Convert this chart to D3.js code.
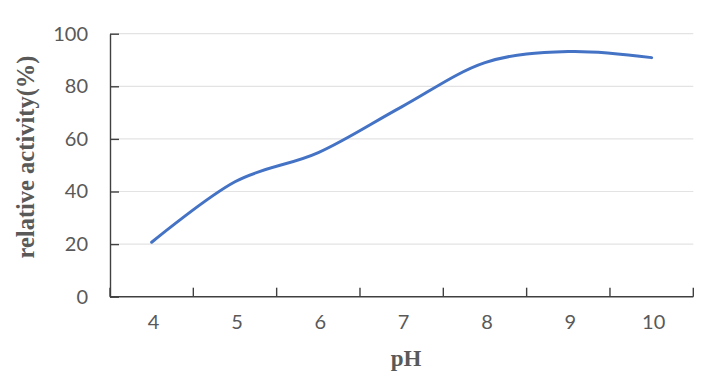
<!DOCTYPE html>
<html>
<head>
<meta charset="utf-8">
<script src="https://cdn.jsdelivr.net/npm/d3@7"></script>
<style>
  body { margin: 0; background: #fff; }
  svg { display: block; }
</style>
</head>
<body>
<script>
// pH values and measured relative activity
const phLevels = ["4", "5", "6", "7", "8", "9", "10"];
const activity = [20.7, 43.7, 54.8, 72.2, 89.0, 93.2, 90.9];
const yTicks = [0, 20, 40, 60, 80, 100];

const width = 716, height = 389;
const plotLeft = 110, plotRight = 693.3, plotTop = 33.7, plotBottom = 296.7;

const svg = d3.select("body").append("svg")
    .attr("width", width)
    .attr("height", height);

const x = d3.scaleBand().domain(phLevels).range([plotLeft, plotRight]).padding(0);
const y = d3.scaleLinear().domain([0, 100]).range([plotBottom, plotTop]);

// gridlines
svg.append("g")
  .selectAll("line")
  .data(yTicks.filter(d => d > 0))
  .join("line")
    .attr("x1", plotLeft).attr("x2", plotRight)
    .attr("y1", d => y(d)).attr("y2", d => y(d))
    .attr("stroke", "#e3e3e3")
    .attr("stroke-width", 1.2);

// y axis
const yAxis = svg.append("g")
    .attr("transform", `translate(${plotLeft},0)`)
    .call(d3.axisLeft(y).tickValues(yTicks).tickSizeInner(-9).tickSizeOuter(0).tickPadding(22));
yAxis.select(".domain").attr("stroke", "#404040").attr("stroke-width", 1.4);
yAxis.selectAll(".tick line").attr("stroke", "#404040").attr("stroke-width", 1.4);
yAxis.selectAll("text")
    .attr("fill", "#595959")
    .style("font-family", "Lato, sans-serif")
    .style("font-size", "20px");

// x axis with ticks on category boundaries
const xAxis = svg.append("g")
    .attr("transform", `translate(0,${plotBottom})`)
    .call(d3.axisBottom(x).tickSize(0).tickPadding(18));
xAxis.select(".domain").remove();
xAxis.append("line")
    .attr("x1", plotLeft).attr("x2", plotRight)
    .attr("stroke", "#404040").attr("stroke-width", 1.4);
xAxis.selectAll(".bound")
  .data(phLevels.map(d => x(d)).concat([x(phLevels[phLevels.length - 1]) + x.bandwidth()]))
  .join("line")
    .attr("class", "bound")
    .attr("x1", d => d).attr("x2", d => d)
    .attr("y1", 0).attr("y2", -9)
    .attr("stroke", "#404040").attr("stroke-width", 1.4);
xAxis.selectAll(".tick text")
    .attr("dx", 2)
    .attr("fill", "#595959")
    .style("font-family", "Lato, sans-serif")
    .style("font-size", "20px");

// line
const line = d3.line()
    .x((d, i) => x(phLevels[i]) + x.bandwidth() / 2)
    .y(d => y(d))
    .curve(d3.curveCardinal.tension(0));

svg.append("path")
    .datum(activity)
    .attr("d", line)
    .attr("fill", "none")
    .attr("stroke", "#4472C4")
    .attr("stroke-width", 3)
    .attr("stroke-linecap", "round");

// axis titles
svg.append("text")
    .attr("x", 406).attr("y", 366)
    .attr("text-anchor", "middle")
    .attr("fill", "#595959")
    .style("font-family", "'Liberation Serif', serif")
    .style("font-weight", "bold")
    .style("font-size", "23px")
    .text("pH");

svg.append("text")
    .attr("transform", "translate(34,157) rotate(-90)")
    .attr("text-anchor", "middle")
    .attr("fill", "#595959")
    .style("font-family", "'Liberation Serif', serif")
    .style("font-weight", "bold")
    .style("font-size", "24.5px")
    .text("relative activity(%)");
</script>
</body>
</html>
